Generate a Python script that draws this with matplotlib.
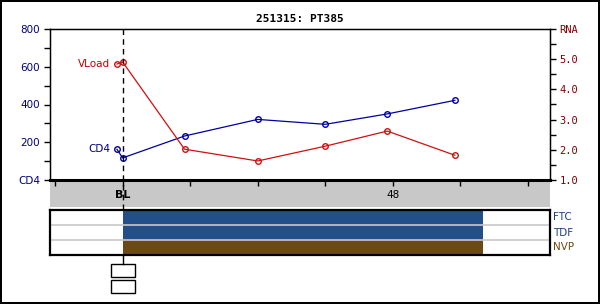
import matplotlib
matplotlib.use("Agg")
import matplotlib.pyplot as plt
import matplotlib.transforms as mtransforms
from matplotlib.patches import Rectangle
from matplotlib.lines import Line2D

# ---- data ----
title = "251315: PT385"
weeks = [-1, 0, 11, 24, 36, 47, 59]
cd4 = [163, 117, 233, 321, 295, 350, 422]
rna = [4.84, 4.91, 2.02, 1.63, 2.12, 2.62, 1.82]
xtick_pos = [-12, 0, 12, 24, 36, 48, 60, 72]
xtick_labels = ["", "BL", "", "", "", "48", "", ""]
left_ticks = [0, 200, 400, 600, 800]
left_labels = ["CD4", "200", "400", "600", "800"]
right_ticks = [1, 2, 3, 4, 5, 6]
right_labels = ["1.0", "2.0", "3.0", "4.0", "5.0", "RNA"]
drugs = ["FTC", "TDF", "NVP"]
drug_start = [0, 0, 0]
drug_end = [64, 64, 64]
drug_colors = ["#224e8a", "#224e8a", "#6b4a15"]
drug_text_colors = ["#1f3f80", "#1f3f80", "#6b4a15"]

W, H = 600, 304
fig = plt.figure(figsize=(W / 100, H / 100), dpi=100)
fig.patch.set_facecolor("white")
fig.patch.set_edgecolor("black")
fig.patch.set_linewidth(1.5)


def rect(x0, y0, x1, y1):
    return [x0 / W, 1 - y1 / H, (x1 - x0) / W, (y1 - y0) / H]


XMIN, XMAX = -12.89, 75.9
NAVY = "#000080"
DRED = "#800000"
BLUE = "#0000a0"
RED = "#d01010"

# gray band
band = fig.add_axes(rect(50, 180, 550, 207), zorder=1)
band.set_facecolor("#c8c8c8")
band.set_xlim(XMIN, XMAX)
band.set_ylim(0, 1)
for s in band.spines.values():
    s.set_visible(False)
band.set_yticks([])
band.set_xticks(xtick_pos)
band.tick_params(axis="x", direction="in", top=True, bottom=False, length=4,
                 width=1, labelbottom=False, color="black")
trans = mtransforms.blended_transform_factory(band.transData, band.transAxes)
for xp, lab in zip(xtick_pos, xtick_labels):
    if lab:
        band.text(xp, 0.45, lab, transform=trans, ha="center", va="center",
                  fontsize=8 if lab == "BL" else 7.5,
                  fontweight="bold" if lab == "BL" else "normal",
                  color="black", family="DejaVu Sans")

# main axes
ax = fig.add_axes(rect(50, 29, 550, 180), zorder=3)
ax.patch.set_alpha(0)
ax.set_xlim(XMIN, XMAX)
ax.set_ylim(0, 800)
ax.set_xticks([])
ax.set_yticks(left_ticks)
ax.set_yticklabels(left_labels)
ax.set_yticks([100, 300, 500, 700], minor=True)
ax.tick_params(axis="y", which="both", direction="out", length=4, width=1,
               colors="black", labelcolor=NAVY, labelsize=7.5, pad=3)
for s in ["top", "left", "right"]:
    ax.spines[s].set_linewidth(1)
ax.spines["bottom"].set_linewidth(2.2)
ax.plot(weeks, cd4, color=BLUE, lw=0.9, marker="o", ms=4, mfc="none",
        mec=BLUE, mew=1, zorder=4, clip_on=False)
ax.text(weeks[0] - 1.2, cd4[0], "CD4", color=NAVY, fontsize=7.5,
        ha="right", va="center")

ax2 = ax.twinx()
ax2.set_ylim(1, 6)
ax2.set_yticks(right_ticks)
ax2.set_yticklabels(right_labels)
ax2.set_yticks([1.5, 2.5, 3.5, 4.5, 5.5], minor=True)
ax2.tick_params(axis="y", which="both", direction="out", length=4, width=1,
                colors="black", labelcolor=DRED, labelsize=7.5, pad=3)
for lab in ax2.get_yticklabels():
    lab.set_family("DejaVu Sans Mono")
ax2.plot(weeks, rna, color=RED, lw=0.9, marker="o", ms=4, mfc="none",
         mec=RED, mew=1, zorder=4, clip_on=False)
ax2.text(weeks[0] - 1.2, rna[0], "VLoad", color="#c00000", fontsize=7.5,
         ha="right", va="center")

# title
fig.text(0.5, 1 - 19 / H, title, ha="center", va="center", fontsize=8,
         fontweight="bold", family="DejaVu Sans Mono")

# treatment panel
tp = fig.add_axes(rect(50, 210, 550, 255), zorder=2)
tp.set_xlim(XMIN, XMAX)
tp.set_ylim(len(drugs), 0)
for i, (d, s, e, c) in enumerate(zip(drugs, drug_start, drug_end, drug_colors)):
    tp.barh(i + 0.5, e - s, left=s, height=1.0, color=c, edgecolor="none")
for i in range(1, len(drugs)):
    tp.axhline(i, color="#c8c8c8", lw=1.2)
tp.set_xticks([])
tp.set_yticks([])
for s in tp.spines.values():
    s.set_linewidth(1.6)
ttrans = mtransforms.blended_transform_factory(fig.transFigure, tp.transData)
for i, (d, c) in enumerate(zip(drugs, drug_text_colors)):
    tp.text(553 / W, i + 0.5, d, transform=ttrans, color=c, fontsize=7.5,
            ha="left", va="center")

# BL vertical line across panels
fig.canvas.draw()
bl_x = fig.transFigure.inverted().transform(ax.transData.transform((0, 0)))[0]
fig.add_artist(Line2D([bl_x, bl_x], [1 - 29 / H, 1 - 210 / H], color="black",
                      lw=1, ls=(0, (4, 3)), zorder=5))
fig.add_artist(Line2D([bl_x, bl_x], [1 - 255 / H, 1 - 264 / H], color="black",
                      lw=1, zorder=5))
bw = 24 / W
for (y0, y1) in [(264, 277), (280, 293)]:
    fig.add_artist(Rectangle((bl_x - bw / 2, 1 - y1 / H), bw, (y1 - y0) / H,
                             transform=fig.transFigure, fill=False,
                             edgecolor="black", lw=1))

fig.savefig("out.png", dpi=100)
